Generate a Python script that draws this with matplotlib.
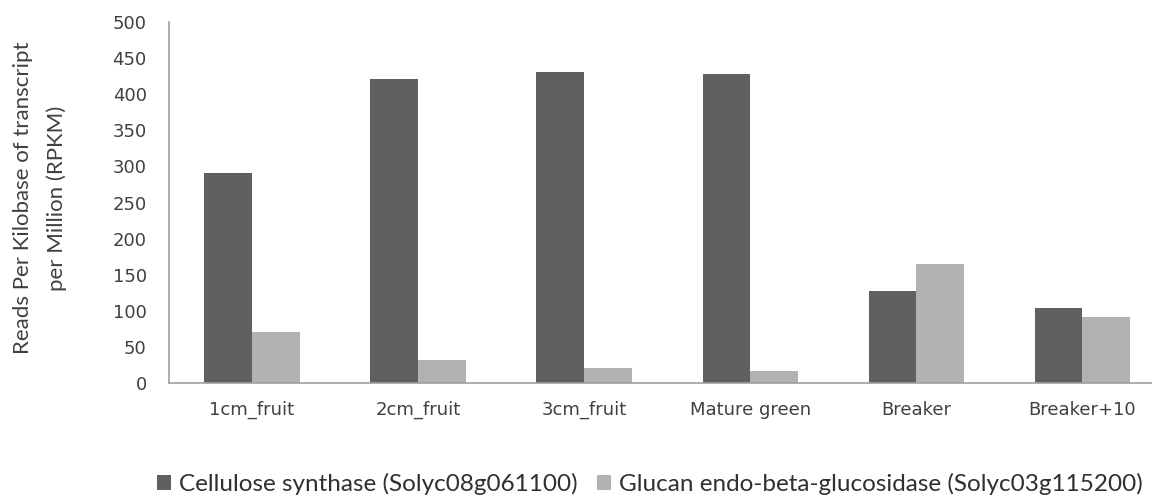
import numpy as np
import matplotlib
matplotlib.use("Agg")
import matplotlib.pyplot as plt

stages = ["1cm_fruit", "2cm_fruit", "3cm_fruit", "Mature green", "Breaker", "Breaker+10"]
cellulose = [291, 421, 431, 428, 128, 104]
glucanase = [71, 32, 21, 16, 165, 92]
series_names = ["Cellulose synthase (Solyc08g061100)",
                "Glucan endo-beta-glucosidase (Solyc03g115200)"]

fig = plt.figure(figsize=(11.52, 5.0), dpi=100)
ax = fig.add_axes([169 / 1152, 1 - 383 / 500, 1 - 169 / 1152, 361 / 500])

x = np.arange(len(stages))
w = 0.287
ax.bar(x - w / 2, cellulose, w, color="#606060", label=series_names[0])
ax.bar(x + w / 2, glucanase, w, color="#b2b2b2", label=series_names[1])

ax.set_ylim(0, 500)
ax.set_xlim(-0.5, 5.42)
ax.set_yticks(range(0, 501, 50))
ax.set_xticks(x)
ax.set_xticklabels(stages)
ax.tick_params(length=0, labelsize=13, colors="#404040")
ax.tick_params(axis="y", pad=16)
ax.tick_params(axis="x", pad=13)

for s in ["top", "right"]:
    ax.spines[s].set_visible(False)
for s in ["left", "bottom"]:
    ax.spines[s].set_color("#a0a0a0")
    ax.spines[s].set_linewidth(1.2)

fig.text(23 / 1152, 1 - 198 / 500, "Reads Per Kilobase of transcript",
         rotation=90, ha="center", va="center", fontsize=16,
         family="Lato", color="#404040")
fig.text(57 / 1152, 1 - 198 / 500, "per Million (RPKM)",
         rotation=90, ha="center", va="center", fontsize=16,
         family="Lato", color="#404040")

handles, labels = ax.get_legend_handles_labels()
fig.legend(handles, labels, loc="center", bbox_to_anchor=(650 / 1152, 1 - 484 / 500),
           ncol=2, frameon=False, prop={"family": "Lato", "size": 17.5},
           handlelength=0.55, handleheight=0.55, handletextpad=0.35, columnspacing=0.8,
           labelcolor="#303030")

fig.savefig("out.png", dpi=100)
